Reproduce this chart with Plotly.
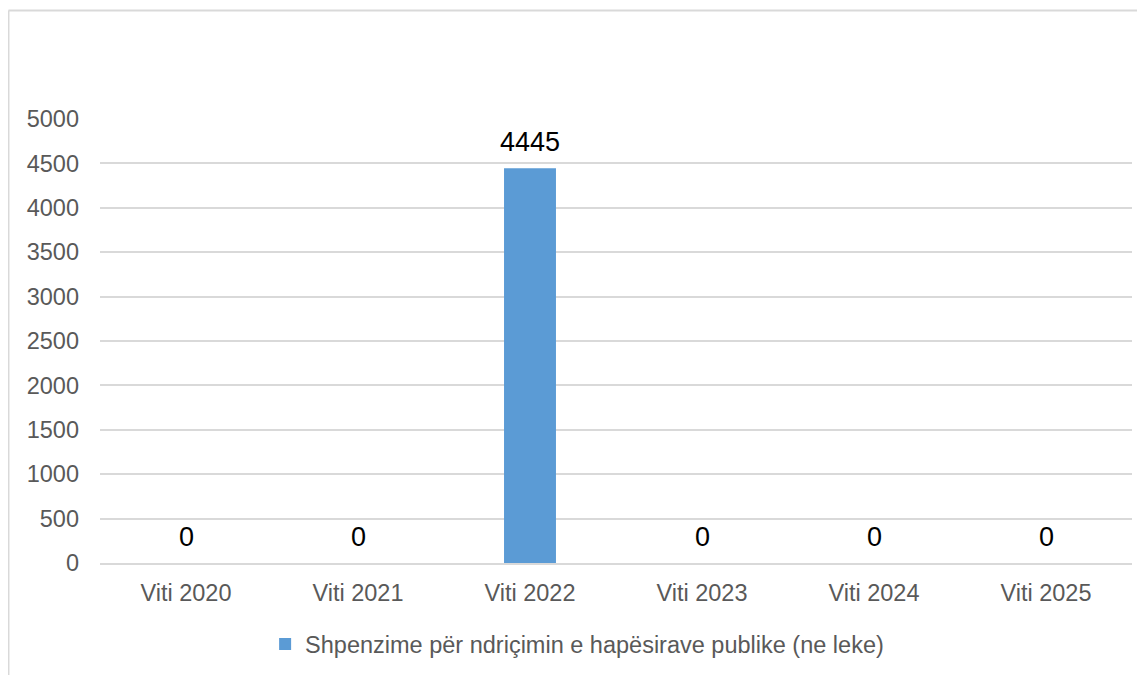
import plotly.graph_objects as go

categories = ["Viti 2020", "Viti 2021", "Viti 2022", "Viti 2023", "Viti 2024", "Viti 2025"]
values = [0, 0, 4445, 0, 0, 0]
series_name = "Shpenzime për ndriçimin e hapësirave publike (ne leke)"
y_ticks = [0, 500, 1000, 1500, 2000, 2500, 3000, 3500, 4000, 4500, 5000]

BAR = "#5B9BD5"
GRID = "#D9D9D9"
TXT = "#595959"
FONT = "Liberation Sans, Arial, sans-serif"

fig = go.Figure()
fig.add_trace(go.Bar(
    x=categories, y=values, name=series_name,
    marker=dict(color=BAR, line=dict(width=0)),
    showlegend=True,
))

for c, v in zip(categories, values):
    fig.add_annotation(
        x=c, y=v, text=str(v), showarrow=False,
        yanchor="bottom", yshift=9,
        font=dict(family=FONT, size=27, color="#000000"),
    )

# chart frame (left and top edges visible in the crop)
fig.add_shape(type="line", xref="paper", yref="paper",
              x0=-0.0887, x1=-0.0887, y0=1.2441, y1=-0.26,
              line=dict(color=GRID, width=2))
fig.add_shape(type="line", xref="paper", yref="paper",
              x0=-0.0887, x1=1.02, y0=1.2441, y1=1.2441,
              line=dict(color=GRID, width=2))

fig.update_layout(
    width=1137, height=667,
    margin=dict(l=92, r=13, t=111, b=111.5, autoexpand=False),
    paper_bgcolor="white", plot_bgcolor="white",
    bargap=0.698,
    font=dict(family=FONT, size=23.5, color=TXT),
    showlegend=True,
    legend=dict(
        orientation="h", x=0.16, xanchor="left", y=-0.183, yanchor="middle",
        font=dict(family=FONT, size=23.5, color=TXT),
        bgcolor="rgba(0,0,0,0)",
    ),
    xaxis=dict(
        showgrid=False, showline=True, linecolor=GRID, linewidth=1.5,
        ticks="", ticklabelstandoff=8,
        tickfont=dict(family=FONT, size=23.5, color=TXT),
        zeroline=False,
    ),
    yaxis=dict(
        range=[0, 5000], tickvals=y_ticks,
        showgrid=True, gridcolor=GRID, gridwidth=1.5,
        zeroline=False, showline=False, ticks="",
        ticklabelstandoff=20,
        tickfont=dict(family=FONT, size=23.5, color=TXT),
    ),
)

fig.write_html("out.html")
